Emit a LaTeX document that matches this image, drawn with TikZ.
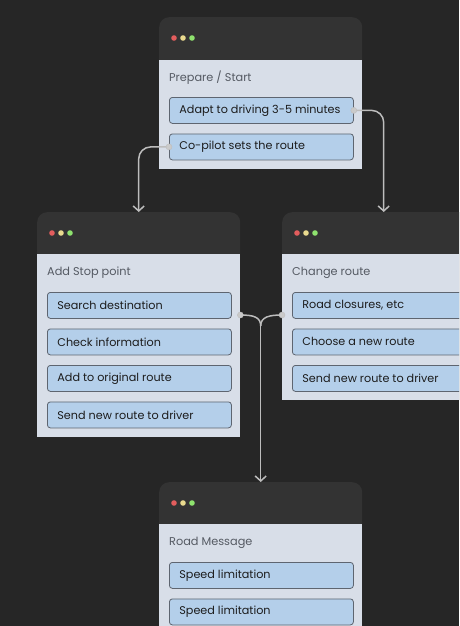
\documentclass[tikz,border=0pt]{standalone}
\usepackage{fontspec}
\setmainfont{Poppins}
\usetikzlibrary{arrows.meta, positioning}
\definecolor{canvas}{HTML}{262626}
\definecolor{headbar}{HTML}{333333}
\definecolor{cardbody}{HTML}{D8DEE8}
\definecolor{itemfill}{HTML}{B4CFEA}
\definecolor{itemline}{HTML}{5E6570}
\definecolor{itemtext}{HTML}{1C1C1C}
\definecolor{titletext}{HTML}{555A63}
\definecolor{linkgrey}{HTML}{BDBDBD}
\definecolor{dotred}{HTML}{E35D5D}
\definecolor{dotyellow}{HTML}{E9DA8E}
\definecolor{dotgreen}{HTML}{8EE26E}
\def\itemsep{36.5}
\newcommand\itemtxt[1]{\makebox[164pt][l]{#1}}

\begin{document}
\begin{tikzpicture}[x=1pt, y=-1pt, >={Straight Barb[length=5pt,width=11pt]}]
    \tikzstyle{card}=[rectangle, rounded corners=10pt, fill=headbar, inner sep=0pt, minimum width=203pt, anchor=north west]
    \tikzstyle{cardtitle}=[anchor=west, inner sep=0pt, text=titletext, font=\fontsize{11.3}{13}\selectfont]
    \tikzstyle{item}=[rectangle, rounded corners=3pt, draw=itemline, line width=0.8pt, fill=itemfill, inner xsep=10pt, inner ysep=0pt, minimum width=184pt, minimum height=26pt, anchor=north west, text=itemtext, font=\fontsize{11.2}{13}\selectfont]
    \tikzstyle{link}=[draw=linkgrey, line width=1.5pt, rounded corners=12pt]
    \tikzstyle{joint}=[fill=linkgrey!80!white, draw=linkgrey]

    \useasboundingbox (0,0) rectangle (459,626);
    \clip (0,0) rectangle (459,626);
    \fill[canvas] (0,0) rectangle (459,626);

    % Prepare / Start
    \node[card, minimum height=152pt] (prep) at (159,17) {};
    \fill[cardbody] ([yshift=-43pt]prep.north west) rectangle (prep.south east);
    \node[cardtitle] (prep-t) at ([xshift=10pt, yshift=-61pt]prep.north west) {Prepare / Start};
    \foreach \i/\txt in {1/Adapt to driving 3-5 minutes, 2/Co-pilot sets the route}
        \node[item] (prep-\i) at ([xshift=10pt, yshift={-(80+\itemsep*(\i-1))*1pt}]prep.north west) {\itemtxt{\txt}};

    % Add Stop point
    \node[card, minimum height=225pt] (stop) at (37,212) {};
    \fill[cardbody] ([yshift=-42pt]stop.north west) rectangle (stop.south east);
    \node[cardtitle] (stop-t) at ([xshift=10pt, yshift=-61pt]stop.north west) {Add Stop point};
    \foreach \i/\txt in {1/Search destination, 2/Check information, 3/Add to original route, 4/Send new route to driver}
        \node[item] (stop-\i) at ([xshift=10pt, yshift={-(80+\itemsep*(\i-1))*1pt}]stop.north west) {\itemtxt{\txt}};

    % Change route
    \node[card, minimum height=188pt] (change) at (282,212) {};
    \fill[cardbody] ([yshift=-42pt]change.north west) rectangle (change.south east);
    \node[cardtitle] (change-t) at ([xshift=10pt, yshift=-61pt]change.north west) {Change route};
    \foreach \i/\txt in {1/{Road closures, etc}, 2/Choose a new route, 3/Send new route to driver}
        \node[item] (change-\i) at ([xshift=10pt, yshift={-(80+\itemsep*(\i-1))*1pt}]change.north west) {\itemtxt{\txt}};

    % Road Message
    \node[card, minimum height=188pt] (msg) at (159,482) {};
    \fill[cardbody] ([yshift=-42pt]msg.north west) rectangle (msg.south east);
    \node[cardtitle] (msg-t) at ([xshift=10pt, yshift=-61pt]msg.north west) {Road Message};
    \foreach \i/\txt in {1/Speed limitation, 2/Speed limitation}
        \node[item] (msg-\i) at ([xshift=10pt, yshift={-(80+\itemsep*(\i-1))*1pt}]msg.north west) {\itemtxt{\txt}};

    % window dots
    \foreach \w in {prep, stop, change, msg}
        \foreach \c [count=\k] in {dotred, dotyellow, dotgreen}
            \fill[\c] ([xshift={(6+9*\k)*1pt}, yshift=-21pt]\w.north west) circle (2.8pt);

    % Connectors
    \draw[link, ->] (prep-1.east) -| (change.north);
    \draw[link, ->] (prep-2.west) -| (stop.north);

    \coordinate (sj) at ([yshift=-103pt]stop.north east);
    \coordinate (cj) at ([yshift=-103pt]change.north west);
    \path (sj -| msg.north) ++(0,11) coordinate (mj);
    \draw[link] (sj) .. controls +(13,0) and +(0,-9) .. (mj);
    \draw[link] (cj) .. controls +(-13,0) and +(0,-9) .. (mj);
    \draw[link, ->] (mj) -- (msg.north);

    \foreach \p in {prep-1.east, prep-2.west, sj, cj}
        \filldraw[joint] (\p) circle (3pt);
\end{tikzpicture}
\end{document}
